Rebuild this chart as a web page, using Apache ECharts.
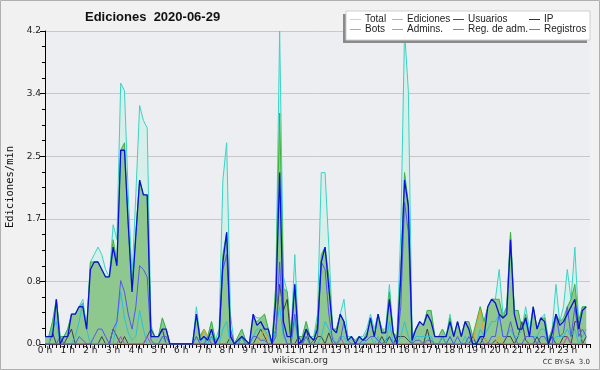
<!DOCTYPE html>
<html><head><meta charset="utf-8">
<script src="https://cdn.jsdelivr.net/npm/echarts@6/dist/echarts.min.js"></script>
<style>html,body{margin:0;padding:0;background:#f1f1f1}#c{width:600px;height:370px}</style>
</head><body><div id="c"></div>
<script>
// 10-minute bins, 144 per day (values in edits/min)
const total = [
0.1,0.1,0.3,0.6,0.1,0.1, 0.2,0.4,0.4,0.5,0.6,0.2, 1.1,1.2,1.3,1.2,1.0,0.9, 1.6,1.4,3.5,3.4,2.0,0.9,
2.0,3.2,3.0,2.9,0.25,0.1, 0.1,0.35,0.2,0,0,0, 0,0,0,0,0.5,0.1, 0.2,0.1,0.3,0.05,0.2,2.2,
2.7,0.4,0,0.1,0.2,0.05, 0,0.4,0.35,0.35,0.4,0.2, 0,0.8,4.2,0.9,0.7,0.1, 1.2,0.1,0.1,0.3,0.1,0.1,
0.4,2.3,2.3,1.3,0.2,0.2, 0.4,0.6,0.1,0.1,0.05,0.1, 0.1,0.2,0.4,0.2,0.4,0.2, 0.2,0.8,0.15,0.1,1.5,4.2,
3.4,0.1,0.2,0.3,0.25,0.45, 0.45,0.1,0.1,0.2,0.1,0.4, 0.1,0.3,0.1,0.3,0.3,0.1, 0.3,0.5,0.3,0.5,0.6,0.6,
1.0,0.4,0.5,1.5,0.45,0.45, 0.2,0.5,0.2,0.5,0.2,0.35, 0.4,0.05,0.2,0.8,0.3,0.5, 1.0,0.6,1.3,0.3,0.5,0.5];
const ediciones = [
0.1,0.1,0.3,0.6,0.1,0.1, 0.2,0.4,0.4,0.5,0.55,0.2, 1.1,1.1,1.1,1.0,0.9,0.9, 1.4,1.1,2.6,2.7,1.6,0.7,
1.5,2.2,2.0,2.0,0.2,0.1, 0.1,0.35,0.2,0,0,0, 0,0,0,0,0.4,0.1, 0.2,0.1,0.3,0.05,0.1,1.2,
1.5,0.2,0,0.1,0.2,0.05, 0,0.35,0.3,0.35,0.4,0.2, 0,0.8,3.1,0.75,0.7,0.1, 0.8,0.1,0.1,0.3,0.1,0.05,
0.3,1.2,1.3,0.9,0.2,0.2, 0.4,0.3,0.05,0.1,0.05,0.1, 0.05,0.15,0.3,0.1,0.4,0.2, 0.15,0.7,0.15,0.1,1.0,2.3,
1.9,0.1,0.2,0.3,0.25,0.45, 0.45,0.1,0.1,0.2,0.1,0.35, 0.1,0.3,0.1,0.3,0.3,0.1, 0.3,0.5,0.3,0.5,0.6,0.6,
0.6,0.35,0.5,1.5,0.45,0.45, 0.2,0.4,0.1,0.5,0.2,0.35, 0.35,0.05,0.2,0.4,0.3,0.35, 0.5,0.6,0.8,0.3,0.5,0.5];
const usuarios = [
0.1,0.1,0.1,0.6,0,0.1, 0.1,0.4,0.4,0.5,0.5,0.2, 1.0,1.1,1.1,1.0,0.9,0.9, 1.3,1.05,2.6,2.6,1.6,0.7,
1.45,2.2,2.0,2.0,0.1,0.1, 0.1,0.2,0.2,0,0,0, 0,0,0,0,0.4,0.05, 0.1,0.05,0.2,0,0.1,1.1,
1.5,0.1,0,0.05,0.1,0.05, 0,0.4,0.25,0.3,0.2,0.2, 0,0.6,2.3,0.3,0.1,0.1, 0.8,0,0.05,0.2,0.1,0.05,
0.2,1.1,1.3,0.75,0.2,0.15, 0.4,0.3,0.05,0.1,0,0.1, 0.05,0.1,0.35,0.1,0.4,0.15, 0.15,0.6,0.15,0,0.9,2.2,
1.85,0.05,0.2,0.3,0.25,0.4, 0.3,0.1,0.1,0.1,0.1,0.3, 0.1,0.3,0.1,0.3,0.2,0, 0,0.1,0.1,0.5,0.6,0.55,
0.4,0.35,0.4,1.4,0.4,0.2, 0.2,0.35,0.1,0.5,0.2,0.35, 0.3,0,0.15,0.4,0.25,0.3, 0.4,0.5,0.6,0.2,0.45,0.5];
const ip = [
0,0,0.15,0,0,0, 0.1,0.2,0,0,0,0, 0,0,0,0.1,0,0, 0.2,0.1,0,0.1,0,0,
0,0,0,0.1,0.2,0.1, 0.1,0.2,0,0,0,0, 0,0,0,0,0,0, 0,0,0.1,0,0,0,
0,0.1,0,0,0.1,0, 0,0,0.1,0.2,0.1,0, 0,0.2,0.8,0.45,0.6,0, 0,0.1,0,0.2,0,0,
0.1,0.1,0,0.15,0,0, 0,0,0,0,0,0, 0,0,0,0,0,0.1, 0,0.1,0,0.1,0.1,0.1,
0.05,0,0,0,0,0.2, 0,0,0,0.1,0,0, 0,0,0,0,0,0.1, 0,0,0.1,0,0,0.05,
0,0,0.1,0.1,0,0.1, 0.3,0.05,0,0,0.1,0, 0,0,0.1,0,0,0.1, 0.1,0,0.3,0.3,0,0.1];
const bots = [
0,0,0,0,0,0, 0,0,0,0,0,0, 0,0,0,0,0,0, 0,0,0,0,0,0,
0,0,0,0,0,0, 0,0,0,0,0,0, 0,0,0,0,0,0, 0.2,0.1,0,0,0,0,
0,0,0,0,0,0, 0,0,0,0.1,0.2,0, 0,0,0,0,0,0, 0,0,0,0,0,0,
0,0,0,0,0,0, 0,0,0,0,0,0, 0,0,0,0,0,0, 0,0,0,0,0,0,
0,0,0,0,0,0, 0,0,0,0,0,0, 0,0,0,0,0,0, 0.25,0.45,0.1,0,0,0,
0.1,0,0,0,0,0, 0,0,0,0,0,0, 0,0,0,0,0,0, 0.1,0,0,0,0,0];
const admins = [
0,0,0.2,0.3,0,0, 0,0,0.1,0.3,0.55,0.2, 0,0,0,0,0,0, 0,0.3,0.7,0.35,0.15,0.05,
0.1,0.45,0.2,0,0,0, 0,0.1,0,0,0,0, 0,0,0,0,0.1,0, 0.1,0,0.1,0,0,0.2,
0.3,0,0,0,0.1,0, 0,0.1,0.2,0.2,0.2,0.1, 0,0.2,0.5,0.1,0,0, 0.3,0,0,0.1,0,0,
0,0.1,0.3,0.2,0.1,0, 0.1,0.1,0,0,0,0, 0,0.05,0.1,0,0.1,0, 0,0.3,0,0,0.1,0.3,
0.1,0,0.1,0.1,0.1,0.1, 0.1,0,0,0.1,0,0.1, 0,0,0,0.1,0,0, 0,0.2,0.1,0.2,0.3,0.3,
0.4,0.1,0.1,0.2,0.1,0.1, 0.2,0.3,0.1,0.1,0.1,0.2, 0.2,0,0,0.1,0.1,0.1, 0.2,0.1,0.2,0,0.1,0.2];
const regAdm = [
0,0,0,0,0,0, 0,0,0,0,0,0, 0,0,0,0,0,0, 0,0,0.1,0,0,0,
0,0,0,0.1,0,0, 0,0,0,0,0,0, 0,0,0,0,0,0, 0,0,0,0,0,0,
0,0,0,0,0,0, 0,0,0,0,0,0, 0,0,0,0,0,0, 0,0,0,0,0,0,
0,0,0,0,0,0, 0.1,0,0,0,0,0, 0,0,0,0,0,0, 0,0,0,0,0,0,
0,0,0,0,0,0, 0,0,0,0,0,0, 0,0,0,0,0,0, 0,0,0,0,0,0,
0,0,0,0,0,0, 0,0,0,0,0,0, 0,0,0,0,0,0, 0.1,0,0,0,0,0];
const registros = [
0,0,0,0,0.1,0, 0,0,0,0.1,0.05,0, 0,0.1,0.2,0.2,0.1,0, 0.2,0.3,0.85,0.7,0.4,0.2,
0.5,1.05,1.0,0.9,0.05,0, 0,0.1,0.1,0,0,0, 0,0,0,0,0.1,0, 0,0.1,0,0,0.1,1.0,
1.2,0.2,0,0,0,0, 0,0.1,0.1,0.05,0.05,0, 0,0.1,1.1,0.15,0,0, 0.4,0,0,0.1,0,0.05,
0.1,1.1,1.0,0.4,0.05,0, 0.05,0.3,0.05,0,0,0, 0.05,0.05,0.1,0.1,0.05,0, 0.05,0.1,0,0,0.5,1.9,
1.5,0,0.05,0.05,0,0.05, 0.05,0,0,0,0,0.1, 0,0.1,0,0,0.1,0, 0,0.1,0,0,0.1,0.1,
0.4,0.1,0.1,0.3,0.1,0, 0,0.1,0.1,0.1,0,0.1, 0.1,0,0,0.4,0.1,0.15, 0.5,0.1,0.5,0.1,0.2,0.1];
const yTicks = [0, 0.84, 1.68, 2.52, 3.36, 4.2];
const legendNames = [["Total","Ediciones","Usuarios","IP"],["Bots","Admins.","Reg. de adm.","Registros"]];
const legendColors = [["#a8e6e0","#8ed08e","#3a3ae0","#333333"],["#f0a030","#40c8e0","#d050e0","#7070f0"]];

const BIN = 1/6;
function pts(arr){ return arr.map((v,i)=>[i*BIN, v]); }
function ser(name, arr, color, width, z, fill){
  const s = {type:'line', name, data:pts(arr), symbol:'none', silent:true, z,
    lineStyle:{color, width}, itemStyle:{color}};
  if (fill) s.areaStyle = {color:fill, opacity:1};
  return s;
}
const chart = echarts.init(document.getElementById('c'), null, {renderer:'canvas'});
const legendGraphics = [];
const colX = [350, 392, 453, 529];
const rowY = [19.5, 29.5];
legendGraphics.push({type:'rect', shape:{x:343,y:14,width:244,height:29}, style:{fill:'#8a8a8a'}, z:10});
legendGraphics.push({type:'rect', shape:{x:346,y:11,width:244,height:29}, style:{fill:'#ffffff', stroke:'#cfcfcf', lineWidth:1}, z:11});
for (let r=0;r<2;r++) for (let c=0;c<4;c++){
  legendGraphics.push({type:'line', shape:{x1:colX[c], y1:rowY[r], x2:colX[c]+11, y2:rowY[r]}, style:{stroke:legendColors[r][c], lineWidth:1}, z:12});
  legendGraphics.push({type:'text', x:colX[c]+15, y:rowY[r], style:{text:legendNames[r][c], font:'10px "Liberation Sans"', fill:'#222', textVerticalAlign:'middle'}, z:12});
}
chart.setOption({
  animation:false,
  backgroundColor:'#f1f1f1',
  grid:{left:45, right:10, top:31, bottom:26, show:true, backgroundColor:'#eceef1', borderWidth:0},
  xAxis:{type:'value', min:0, max:24, interval:1,
    axisLine:{lineStyle:{color:'#000', width:1}},
    axisTick:{length:4, lineStyle:{color:'#000'}},
    minorTick:{show:true, splitNumber:6, length:4, lineStyle:{color:'#000'}},
    axisLabel:{formatter:v=> v<24 ? v+' h' : '', fontSize:9, color:'#222', margin:2, fontFamily:'DejaVu Sans'},
    splitLine:{show:false}},
  yAxis:{type:'value', min:0, max:4.2, interval:0.84,
    axisLine:{show:true, lineStyle:{color:'#000', width:1}},
    axisTick:{show:true, length:5, lineStyle:{color:'#000'}},
    minorTick:{show:true, splitNumber:4, length:3, lineStyle:{color:'#000'}},
    axisLabel:{formatter:v=>v.toFixed(1), fontSize:9, color:'#222', margin:4, fontFamily:'DejaVu Sans'},
    splitLine:{show:true, lineStyle:{color:'#c8c8c8', width:1}}},
  graphic:[
    {type:'rect', shape:{x:0.5,y:0.5,width:599,height:369}, style:{fill:'none', stroke:'#b0b0b0', lineWidth:1}},
    {type:'text', x:85, y:17, style:{text:'Ediciones  2020-06-29', font:'bold 13px "Liberation Sans"', fill:'#111', textVerticalAlign:'middle'}},
    {type:'text', x:10, y:187, rotation:Math.PI/2, style:{text:'Ediciones/min', font:'10.5px "DejaVu Sans Mono"', fill:'#111', textAlign:'center', textVerticalAlign:'middle'}},
    {type:'text', x:300, y:361, style:{text:'wikiscan.org', font:'9px "DejaVu Sans"', fill:'#333', textAlign:'center', textVerticalAlign:'middle'}},
    {type:'text', x:590, y:362, style:{text:'CC BY-SA  3.0', font:'7px "DejaVu Sans"', fill:'#333', textAlign:'right', textVerticalAlign:'middle'}},
    ...legendGraphics
  ],
  series:[
    ser('Total', total, '#38d4c4', 1, 2, '#d6efea'),
    ser('Ediciones', ediciones, '#3cb43c', 1, 3, '#8fc88f'),
    ser('IP', ip, '#404040', 1, 4),
    ser('Bots', bots, '#f0a020', 1, 4),
    ser('Reg. de adm.', regAdm, '#c040e0', 1, 4),
    ser('Admins.', admins, '#28c0e0', 1, 5),
    ser('Registros', registros, '#5555f0', 1, 5),
    ser('Usuarios', usuarios, '#0a10e0', 1.3, 6)
  ]
});
</script></body></html>
